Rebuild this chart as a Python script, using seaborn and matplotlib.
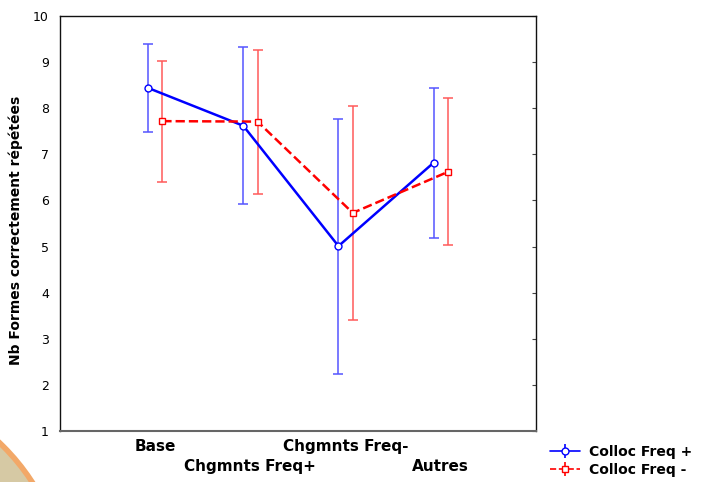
import numpy as np
import pandas as pd
import matplotlib.pyplot as plt
import seaborn as sns
from matplotlib.patches import Circle

# conditions and mean scores
conditions = ['Base', 'Chgmnts Freq+', 'Chgmnts Freq-', 'Autres']
freq_plus_mean = [8.44, 7.62, 5.01, 6.82]
freq_plus_low = [7.48, 5.92, 2.23, 5.18]
freq_plus_high = [9.39, 9.32, 7.77, 8.44]
freq_minus_mean = [7.72, 7.71, 5.73, 6.62]
freq_minus_low = [6.41, 6.15, 3.41, 5.03]
freq_minus_high = [9.02, 9.26, 8.04, 8.22]
series_names = ['Colloc Freq +', 'Colloc Freq -']

sns.set_style('white')
plt.rcParams['font.family'] = ['DejaVu Sans']
plt.rcParams['text.color'] = 'black'
plt.rcParams['axes.labelcolor'] = 'black'
plt.rcParams['xtick.color'] = 'black'
plt.rcParams['ytick.color'] = 'black'

fig = plt.figure(figsize=(7.05, 4.82), dpi=100)
# decorative slide background in lower-left corner (pixel coords, origin bottom-left)
fig.patches.append(Circle((-150, -118), 217, transform=None, facecolor='#d6c9a4',
                          edgecolor='#f2a868', linewidth=4, zorder=0))
ax = fig.add_axes([0.0851, 0.1058, 0.6752, 0.861])
ax.set_facecolor('white')

x = np.arange(len(conditions))
df = pd.DataFrame({
    'x': np.concatenate([x - 0.075, x + 0.075]),
    'score': freq_plus_mean + freq_minus_mean,
    'serie': [series_names[0]] * 4 + [series_names[1]] * 4,
})

styles = [
    dict(color='#0000ff', err='#5555ff', marker='o', ls='-', low=freq_plus_low, high=freq_plus_high),
    dict(color='#ff0000', err='#ff5a5a', marker='s', ls='--', low=freq_minus_low, high=freq_minus_high),
]
handles = []
for name, st in zip(series_names, styles):
    sub = df[df['serie'] == name]
    sns.lineplot(data=sub, x='x', y='score', color=st['color'], linestyle=st['ls'],
                 linewidth=1.8, ax=ax, zorder=3, legend=False)
    mean = sub['score'].values
    yerr = [mean - np.array(st['low']), np.array(st['high']) - mean]
    ax.errorbar(sub['x'], mean, yerr=yerr, fmt='none', ecolor=st['err'],
                elinewidth=1.1, capsize=3.3, capthick=1.1, zorder=2)
    ax.plot(sub['x'], mean, linestyle='none', marker=st['marker'], markersize=5,
            markerfacecolor='white', markeredgecolor=st['color'], markeredgewidth=1, zorder=4)
    lh = ax.errorbar([], [], yerr=[], color=st['color'], ecolor=st['color'], linestyle=st['ls'],
                     marker=st['marker'], markersize=5, markerfacecolor='white',
                     markeredgecolor=st['color'], capsize=3, linewidth=1.2)
    handles.append(lh)

ax.set_xlim(-1, 4)
ax.set_ylim(1, 10)
ax.set_yticks(range(1, 11))
ax.set_xticks(x)
ax.set_xticklabels(conditions, fontweight='bold', fontsize=11)
for t in ax.get_xticklabels()[1::2]:
    t.set_y(-0.048)
ax.tick_params(axis='x', direction='in', length=3, pad=6, color='#444444')
ax.tick_params(axis='y', left=False, right=True, direction='in', length=3,
               labelsize=9, pad=8, color='#444444')
ax.set_xlabel('')
ax.set_ylabel('Nb Formes correctement répétées', fontweight='bold', fontsize=10)
ax.yaxis.set_label_coords(-0.078, 0.484)
for s in ax.spines.values():
    s.set_visible(True)
    s.set_color('#111111')
    s.set_linewidth(1)
ax.spines['bottom'].set_color('#666666')
ax.spines['bottom'].set_linewidth(1.5)

fig.legend(handles, series_names, loc='upper left', bbox_to_anchor=(0.772, 0.088),
           frameon=False, prop={'weight': 'bold', 'size': 10}, handlelength=2.2,
           handletextpad=0.6, labelspacing=0.25, borderaxespad=0)

fig.savefig('out.png', dpi=100, facecolor='white')
